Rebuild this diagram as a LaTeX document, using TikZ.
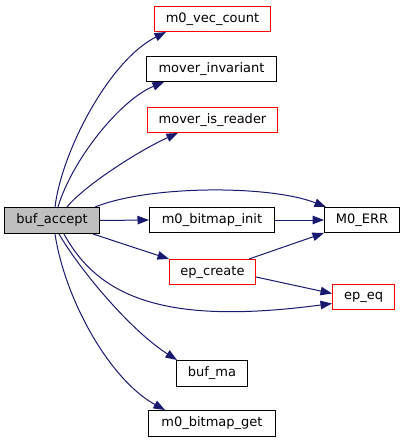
\documentclass[tikz,border=0pt]{standalone}
\usepackage{fontspec}
\setmainfont{DejaVu Sans}
\usetikzlibrary{arrows.meta,calc}
\definecolor{edgeblue}{HTML}{191970}
\definecolor{boxred}{HTML}{FF0000}
\definecolor{boxgray}{HTML}{BFBFBF}
\tikzset{
  fn/.style={draw=black, line width=1pt, fill=white, inner sep=0pt, anchor=center,
    font=\fontsize{13}{15}\selectfont, minimum height=25pt},
  fnred/.style={fn, draw=boxred},
  fnmain/.style={fn, fill=boxgray},
  call/.style={draw=edgeblue, line width=1pt, -{Triangle[length=11.5pt,width=8.5pt]}, fill=none}
}
\begin{document}
\begin{tikzpicture}[x=1pt,y=-1pt]
\useasboundingbox (0,0) rectangle (405,443);
\node[fnmain, minimum width=95pt, minimum height=26pt] (buf) at (52,220.5) {buf\_accept};
\node[fnred, minimum width=116pt] (vec) at (212.5,19) {m0\_vec\_count};
\node[fn, minimum width=130pt] (inv) at (211.5,69) {mover\_invariant};
\node[fnred, minimum width=130pt] (rdr) at (212.5,120) {mover\_is\_reader};
\node[fn, minimum width=125pt] (init) at (212,220) {m0\_bitmap\_init};
\node[fn, minimum width=75pt] (err) at (362,220) {M0\_ERR};
\node[fnred, minimum width=86pt] (epc) at (212.5,272) {ep\_create};
\node[fnred, minimum width=62pt] (epeq) at (363.5,297) {ep\_eq};
\node[fn, minimum width=71pt, minimum height=26pt] (ma) at (212,373.5) {buf\_ma};
\node[fn, minimum width=127pt, minimum height=26pt] (get) at (212,423.5) {m0\_bitmap\_get};

% edges from buf_accept, top side
\draw[call] ($(buf.north west)+(51,0)$) .. controls (62,150) and (110,60) .. ($(vec.south west)+(12,0)$);
\draw[call] ($(buf.north west)+(54,0)$) .. controls (72,160) and (120,100) .. ($(inv.south west)+(18,0)$);
\draw[call] ($(buf.north west)+(63,0)$) .. controls (85,185) and (140,150) .. ($(rdr.south west)+(31,0)$);
\draw[call] ($(buf.north west)+(91,0)$) .. controls (150,185) and (270,185) .. ($(err.north west)+(2,0)$);
% straight
\draw[call] (buf.east) -- (init.west);
\draw[call] (init.east) -- (err.west);
\draw[call] ($(buf.south west)+(89,0)$) -- (epc.north west);
\draw[call] ($(epc.north east)+(-7,0)$) -- (err.south west);
\draw[call] ($(epc.east)+(0,5)$) -- ($(epeq.west)+(0,-3.5)$);
% bottom side
\draw[call] ($(buf.south west)+(60,0)$) .. controls (100,300) and (170,325) .. ($(epeq.west)+(0,6.5)$);
\draw[call] ($(buf.south west)+(55,0)$) .. controls (80,270) and (130,330) .. ($(ma.north west)+(1,0)$);
\draw[call] ($(buf.south west)+(51,0)$) .. controls (65,300) and (110,380) .. ($(get.north west)+(17,0)$);
\end{tikzpicture}
\end{document}
